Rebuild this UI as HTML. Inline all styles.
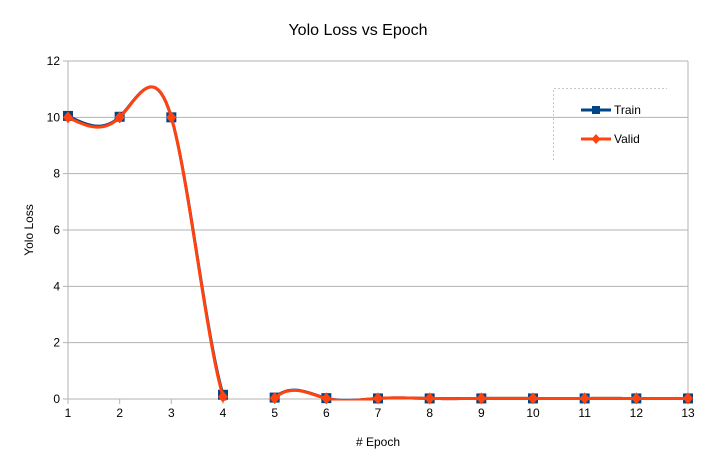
<!DOCTYPE html>
<html><head><meta charset="utf-8"><style>
body{margin:0;background:#fff;font-family:"Liberation Sans",sans-serif}
svg text{font-family:"Liberation Sans",sans-serif}
</style></head><body>
<svg id="chart" width="716" height="471" xmlns="http://www.w3.org/2000/svg">
<defs><clipPath id="plotclip"><rect x="68" y="40" width="621" height="360.5"/></clipPath></defs>
<rect width="716" height="471" fill="#fff"/>
<text x="358" y="35" text-anchor="middle" font-size="16" fill="#000">Yolo Loss vs Epoch</text>
<g id="grid"></g>
<g id="axes"></g>
<g id="series"></g>
<text x="0" y="0" transform="translate(33,230) rotate(-90)" text-anchor="middle" font-size="12">Yolo Loss</text>
<text x="378" y="446" text-anchor="middle" font-size="12"># Epoch</text>
<g>
<path d="M553.5 160 V88.5 H667" fill="none" stroke="#c8c8c8" stroke-dasharray="2,2"/>
<g>
<line x1="581" y1="110" x2="611" y2="110" stroke="#004586" stroke-width="3"/>
<rect x="592" y="106" width="8" height="8" fill="#004586"/>
<text x="614" y="114" font-size="12">Train</text></g>
<g>
<line x1="581" y1="139" x2="611" y2="139" stroke="#ff420e" stroke-width="3"/>
<path d="M596 134 L600.5 139 L596 144 L591.5 139Z" fill="#ff420e"/>
<text x="614" y="143" font-size="12">Valid</text></g>
</g>
</svg>
<script>
const epochs=[1,2,3,4,5,6,7,8,9,10,11,12,13];
const trainLoss=[10.05,10.02,10.0,0.15,0.05,0.03,0.02,0.02,0.02,0.02,0.02,0.02,0.02];
const validLoss=[10.0,10.0,10.0,0.08,0.03,0.02,0.02,0.02,0.02,0.02,0.02,0.02,0.02];
const yTicks=[0,2,4,6,8,10,12];
const NS="http://www.w3.org/2000/svg";
const X0=68,X1=688,Y0=399,Y1=61;
const xs=v=>X0+(v-1)*(X1-X0)/12;
const ys=v=>Y0-v*(Y0-Y1)/12;
function mk(tag,attrs,parent){const e=document.createElementNS(NS,tag);for(const k in attrs)e.setAttribute(k,attrs[k]);parent.appendChild(e);return e;}
const grid=document.getElementById('grid'),axes=document.getElementById('axes'),ser=document.getElementById('series');
yTicks.forEach(t=>{
 const l=mk('line',{x1:X0-5,x2:X1,y1:ys(t),y2:ys(t),stroke:'#b3b3b3'},grid);
 
 
 const tx=mk('text',{x:X0-8,y:ys(t)+4,'text-anchor':'end','font-size':12},axes);
 tx.textContent=t;
 
 
});
mk('line',{x1:X0,x2:X0,y1:Y1,y2:Y0,stroke:'#b3b3b3'},grid);
mk('line',{x1:X1,x2:X1,y1:Y1,y2:Y0,stroke:'#b3b3b3'},grid);
epochs.forEach(e=>{
 mk('line',{x1:xs(e),x2:xs(e),y1:Y0,y2:Y0+5,stroke:'#b3b3b3'},axes);
 const tx=mk('text',{x:xs(e),y:Y0+18,'text-anchor':'middle','font-size':12},axes);
 tx.textContent=e;
 
 
});
function spline(xv,yv){
 const n=xv.length,a=yv.slice(),h=[],al=[0],l=[1],mu=[0],z=[0],c=new Array(n).fill(0),b=[],d=[];
 for(let i=0;i<n-1;i++)h.push(xv[i+1]-xv[i]);
 for(let i=1;i<n-1;i++)al.push(3/h[i]*(a[i+1]-a[i])-3/h[i-1]*(a[i]-a[i-1]));
 for(let i=1;i<n-1;i++){l[i]=2*(xv[i+1]-xv[i-1])-h[i-1]*mu[i-1];mu[i]=h[i]/l[i];z[i]=(al[i]-h[i-1]*z[i-1])/l[i];}
 l[n-1]=1;z[n-1]=0;
 for(let j=n-2;j>=0;j--){c[j]=z[j]-mu[j]*c[j+1];b[j]=(a[j+1]-a[j])/h[j]-h[j]*(c[j+1]+2*c[j])/3;d[j]=(c[j+1]-c[j])/(3*h[j]);}
 let p='';
 for(let j=0;j<n-1;j++)for(let s=0;s<=20;s++){const t=s/20*h[j];const y=a[j]+b[j]*t+c[j]*t*t+d[j]*t*t*t;p+=(p?'L':'M')+xs(xv[j]+t).toFixed(2)+' '+ys(y).toFixed(2);}
 return p;
}
function drawSeries(vals,color,name,marker){
 const g=mk('g',{},ser);
 
 
 mk('path',{d:spline(epochs,vals),fill:'none',stroke:color,'stroke-width':3,'clip-path':'url(#plotclip)'},g);
 epochs.forEach((e,i)=>{
  const cx=xs(e),cy=ys(vals[i]);
  let m;
  if(marker==='sq')m=mk('rect',{x:cx-5,y:cy-5,width:10,height:10,fill:color},g);
  else m=mk('path',{d:`M${cx} ${cy-6}L${cx+5} ${cy}L${cx} ${cy+6}L${cx-5} ${cy}Z`,fill:color},g);
  
  
 });
}
drawSeries(trainLoss,'#004586','train-series','sq');
drawSeries(validLoss,'#ff420e','valid-series','dia');
</script>
</body></html>
